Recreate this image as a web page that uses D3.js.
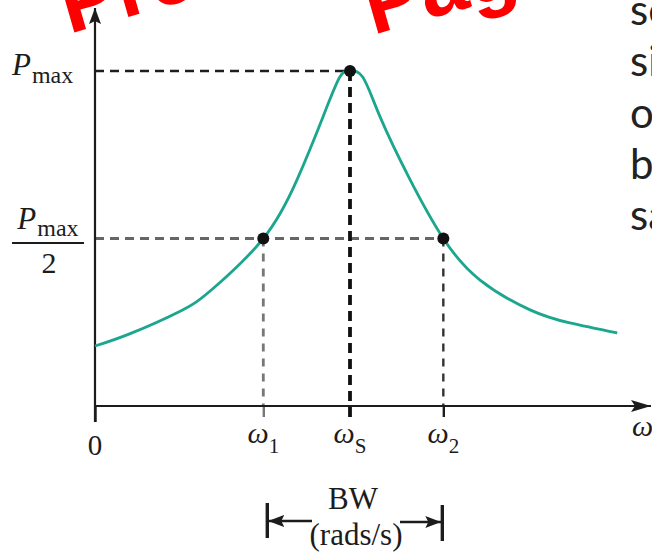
<!DOCTYPE html>
<html>
<head>
<meta charset="utf-8">
<script src="https://cdn.jsdelivr.net/npm/d3@7"></script>
<style>
  body { margin: 0; background: #fff; overflow: hidden; }
  svg { display: block; }
</style>
</head>
<body>
<div id="chart"></div>
<script>
// resonance curve (omega in rad/s, power as fraction of Pmax)
const omega = [0, 69, 167, 231, 330, 396, 447, 480, 500, 525, 559, 618, 683, 755, 853, 931, 1024];
const power = [0.179, 0.216, 0.283, 0.350, 0.5, 0.675, 0.863, 0.982, 1.0, 0.982, 0.863, 0.675, 0.5, 0.376, 0.287, 0.248, 0.218];

// special frequencies
const w1 = 330, ws = 500, w2 = 683;
const tickValues = [0, w1, ws, w2];
const tickSubs = ["", "1", "S", "2"];

// side text (cut off at the edge of the page)
const sideText = ["se", "si", "o", "b", "sa"];

const width = 652, height = 556;
const ink = "#1c1c1c";
const serif = "'Liberation Serif', 'DejaVu Serif', serif";

const svg = d3.select("#chart")
  .append("svg")
  .attr("width", width)
  .attr("height", height);

// scales
const x = d3.scaleLinear().domain([0, 1000]).range([95, 605]);
const y = d3.scaleLinear().domain([0, 1]).range([406, 71]);

// red watermark fragments (under everything else)
const mark = svg.append("g")
  .attr("font-family", "'Liberation Sans', Arial, sans-serif")
  .attr("font-weight", "bold")
  .attr("font-size", 84)
  .attr("fill", "#ff0000");
mark.append("text").attr("transform", "translate(69,34) rotate(-16)").text("Pre");
mark.append("text").attr("transform", "translate(373,35) rotate(-16)").text("Pag");

// arrow heads
const defs = svg.append("defs");
defs.append("marker")
  .attr("id", "arrow")
  .attr("viewBox", "0 0 20 12")
  .attr("refX", 20).attr("refY", 6)
  .attr("markerWidth", 20).attr("markerHeight", 12)
  .attr("markerUnits", "userSpaceOnUse")
  .attr("orient", "auto")
  .append("path")
  .attr("d", "M0,0 L20,6 L0,12 L4,6 Z")
  .attr("fill", ink);

defs.append("marker")
  .attr("id", "arrowSmall")
  .attr("viewBox", "0 0 16 12")
  .attr("refX", 16).attr("refY", 6)
  .attr("markerWidth", 16).attr("markerHeight", 12)
  .attr("markerUnits", "userSpaceOnUse")
  .attr("orient", "auto")
  .append("path")
  .attr("d", "M0,0 L16,6 L0,12 L3,6 Z")
  .attr("fill", ink);

// dashed guide lines
const guides = svg.append("g").attr("fill", "none");

guides.append("line")
  .attr("x1", x(0)).attr("x2", x(ws))
  .attr("y1", y(1)).attr("y2", y(1))
  .attr("stroke", "#1e1e1e").attr("stroke-width", 2.4)
  .attr("stroke-dasharray", "9,6");

guides.append("line")
  .attr("x1", x(0)).attr("x2", x(w2))
  .attr("y1", y(0.5)).attr("y2", y(0.5))
  .attr("stroke", "#666").attr("stroke-width", 2.8)
  .attr("stroke-dasharray", "9,6");

guides.append("line")
  .attr("x1", x(ws)).attr("x2", x(ws))
  .attr("y1", y(1)).attr("y2", y(0) + 13)
  .attr("stroke", "#111").attr("stroke-width", 3.8)
  .attr("stroke-dasharray", "10,6");

guides.append("line")
  .attr("x1", x(w1)).attr("x2", x(w1))
  .attr("y1", y(0.5)).attr("y2", y(0))
  .attr("stroke", "#777").attr("stroke-width", 2.8)
  .attr("stroke-dasharray", "8,7");

guides.append("line")
  .attr("x1", x(w2)).attr("x2", x(w2))
  .attr("y1", y(0.5)).attr("y2", y(0))
  .attr("stroke", "#333").attr("stroke-width", 2.4)
  .attr("stroke-dasharray", "8,7");

// x axis: ticks from d3, line drawn by hand so it can carry an arrow
const xAxis = svg.append("g")
  .attr("transform", `translate(0, ${y(0)})`)
  .call(d3.axisBottom(x).tickValues(tickValues).tickSize(11).tickFormat(""));
xAxis.select(".domain").remove();
xAxis.selectAll(".tick line")
  .attr("stroke", (d) => d === w1 ? "#777" : ink)
  .attr("stroke-width", (d) => d === ws ? 0 : 2.4);
xAxis.selectAll(".tick").filter((d) => d === 0).select("line").attr("y2", 16);

svg.append("line")
  .attr("x1", x(0) - 1).attr("x2", 651)
  .attr("y1", y(0)).attr("y2", y(0))
  .attr("stroke", ink).attr("stroke-width", 2.2)
  .attr("marker-end", "url(#arrow)");

// y axis
svg.append("line")
  .attr("x1", x(0)).attr("x2", x(0))
  .attr("y1", y(0) + 16).attr("y2", 8)
  .attr("stroke", ink).attr("stroke-width", 2.2)
  .attr("marker-end", "url(#arrowSmall)");

// the curve
const pts = omega.map((d, i) => [d, power[i]]);
const line = d3.line()
  .x((d) => x(d[0]))
  .y((d) => y(d[1]))
  .curve(d3.curveNatural);

svg.append("path")
  .datum(pts)
  .attr("d", line)
  .attr("fill", "none")
  .attr("stroke", "#1ba68d")
  .attr("stroke-width", 2.8);

// marked points
const dots = [[w1, 0.5], [ws, 1], [w2, 0.5]];
svg.selectAll("circle.pt")
  .data(dots)
  .join("circle")
  .attr("class", "pt")
  .attr("cx", (d) => x(d[0]))
  .attr("cy", (d) => y(d[1]))
  .attr("r", 6)
  .attr("fill", "#111");

// x tick labels
const tickLabels = svg.append("g")
  .attr("font-family", serif)
  .attr("fill", ink)
  .attr("text-anchor", "middle");

tickValues.forEach((v, i) => {
  const t = tickLabels.append("text")
    .attr("x", x(v))
    .attr("y", v === 0 ? 455 : 443);
  if (v === 0) {
    t.attr("font-size", 29).text("0");
  } else {
    t.append("tspan").attr("font-style", "italic").attr("font-size", 30).text("ω");
    t.append("tspan").attr("font-size", 21).attr("dy", 10).text(tickSubs[i]);
  }
});

svg.append("text")
  .attr("x", 632).attr("y", 436)
  .attr("font-family", serif).attr("font-style", "italic")
  .attr("font-size", 30).attr("fill", ink)
  .text("ω");

// y labels
const pmax = svg.append("text")
  .attr("x", 12).attr("y", y(1) + 4)
  .attr("font-family", serif).attr("fill", ink);
pmax.append("tspan").attr("font-style", "italic").attr("font-size", 31).text("P");
pmax.append("tspan").attr("font-size", 24).attr("dy", 8).attr("dx", 1).text("max");

const half = svg.append("g").attr("font-family", serif).attr("fill", ink).attr("text-anchor", "middle");
const num = half.append("text").attr("x", 48).attr("y", 229);
num.append("tspan").attr("font-style", "italic").attr("font-size", 31).text("P");
num.append("tspan").attr("font-size", 24).attr("dy", 7).attr("dx", 1).text("max");
half.append("line")
  .attr("x1", 12).attr("x2", 84)
  .attr("y1", 243).attr("y2", 243)
  .attr("stroke", ink).attr("stroke-width", 1.8);
half.append("text").attr("x", 49).attr("y", 273).attr("font-size", 30).text("2");

// bandwidth bracket
const bw = svg.append("g");
bw.append("line")
  .attr("x1", x(w1) + 4).attr("x2", x(w1) + 4)
  .attr("y1", 503).attr("y2", 538)
  .attr("stroke", ink).attr("stroke-width", 3.4);
bw.append("line")
  .attr("x1", x(w2) - 1).attr("x2", x(w2) - 1)
  .attr("y1", 505).attr("y2", 541)
  .attr("stroke", ink).attr("stroke-width", 3.4);
bw.append("line")
  .attr("x1", 312).attr("x2", x(w1) + 5)
  .attr("y1", 521).attr("y2", 521)
  .attr("stroke", ink).attr("stroke-width", 2.4)
  .attr("marker-end", "url(#arrowSmall)");
bw.append("line")
  .attr("x1", 400).attr("x2", x(w2) - 2)
  .attr("y1", 522).attr("y2", 522)
  .attr("stroke", ink).attr("stroke-width", 2.4)
  .attr("marker-end", "url(#arrowSmall)");
bw.append("text")
  .attr("x", 353).attr("y", 509)
  .attr("font-family", serif).attr("font-size", 31)
  .attr("text-anchor", "middle").attr("fill", ink)
  .text("BW");
bw.append("text")
  .attr("x", 356).attr("y", 545)
  .attr("font-family", serif).attr("font-size", 31)
  .attr("text-anchor", "middle").attr("fill", ink)
  .text("(rads/s)");

// side text
svg.selectAll("text.side")
  .data(sideText)
  .join("text")
  .attr("class", "side")
  .attr("x", 630)
  .attr("y", (d, i) => 25 + i * 51.3)
  .attr("font-family", "Lato, 'Open Sans', sans-serif")
  .attr("font-size", 42)
  .attr("fill", "#222")
  .text((d) => d);
</script>
</body>
</html>
